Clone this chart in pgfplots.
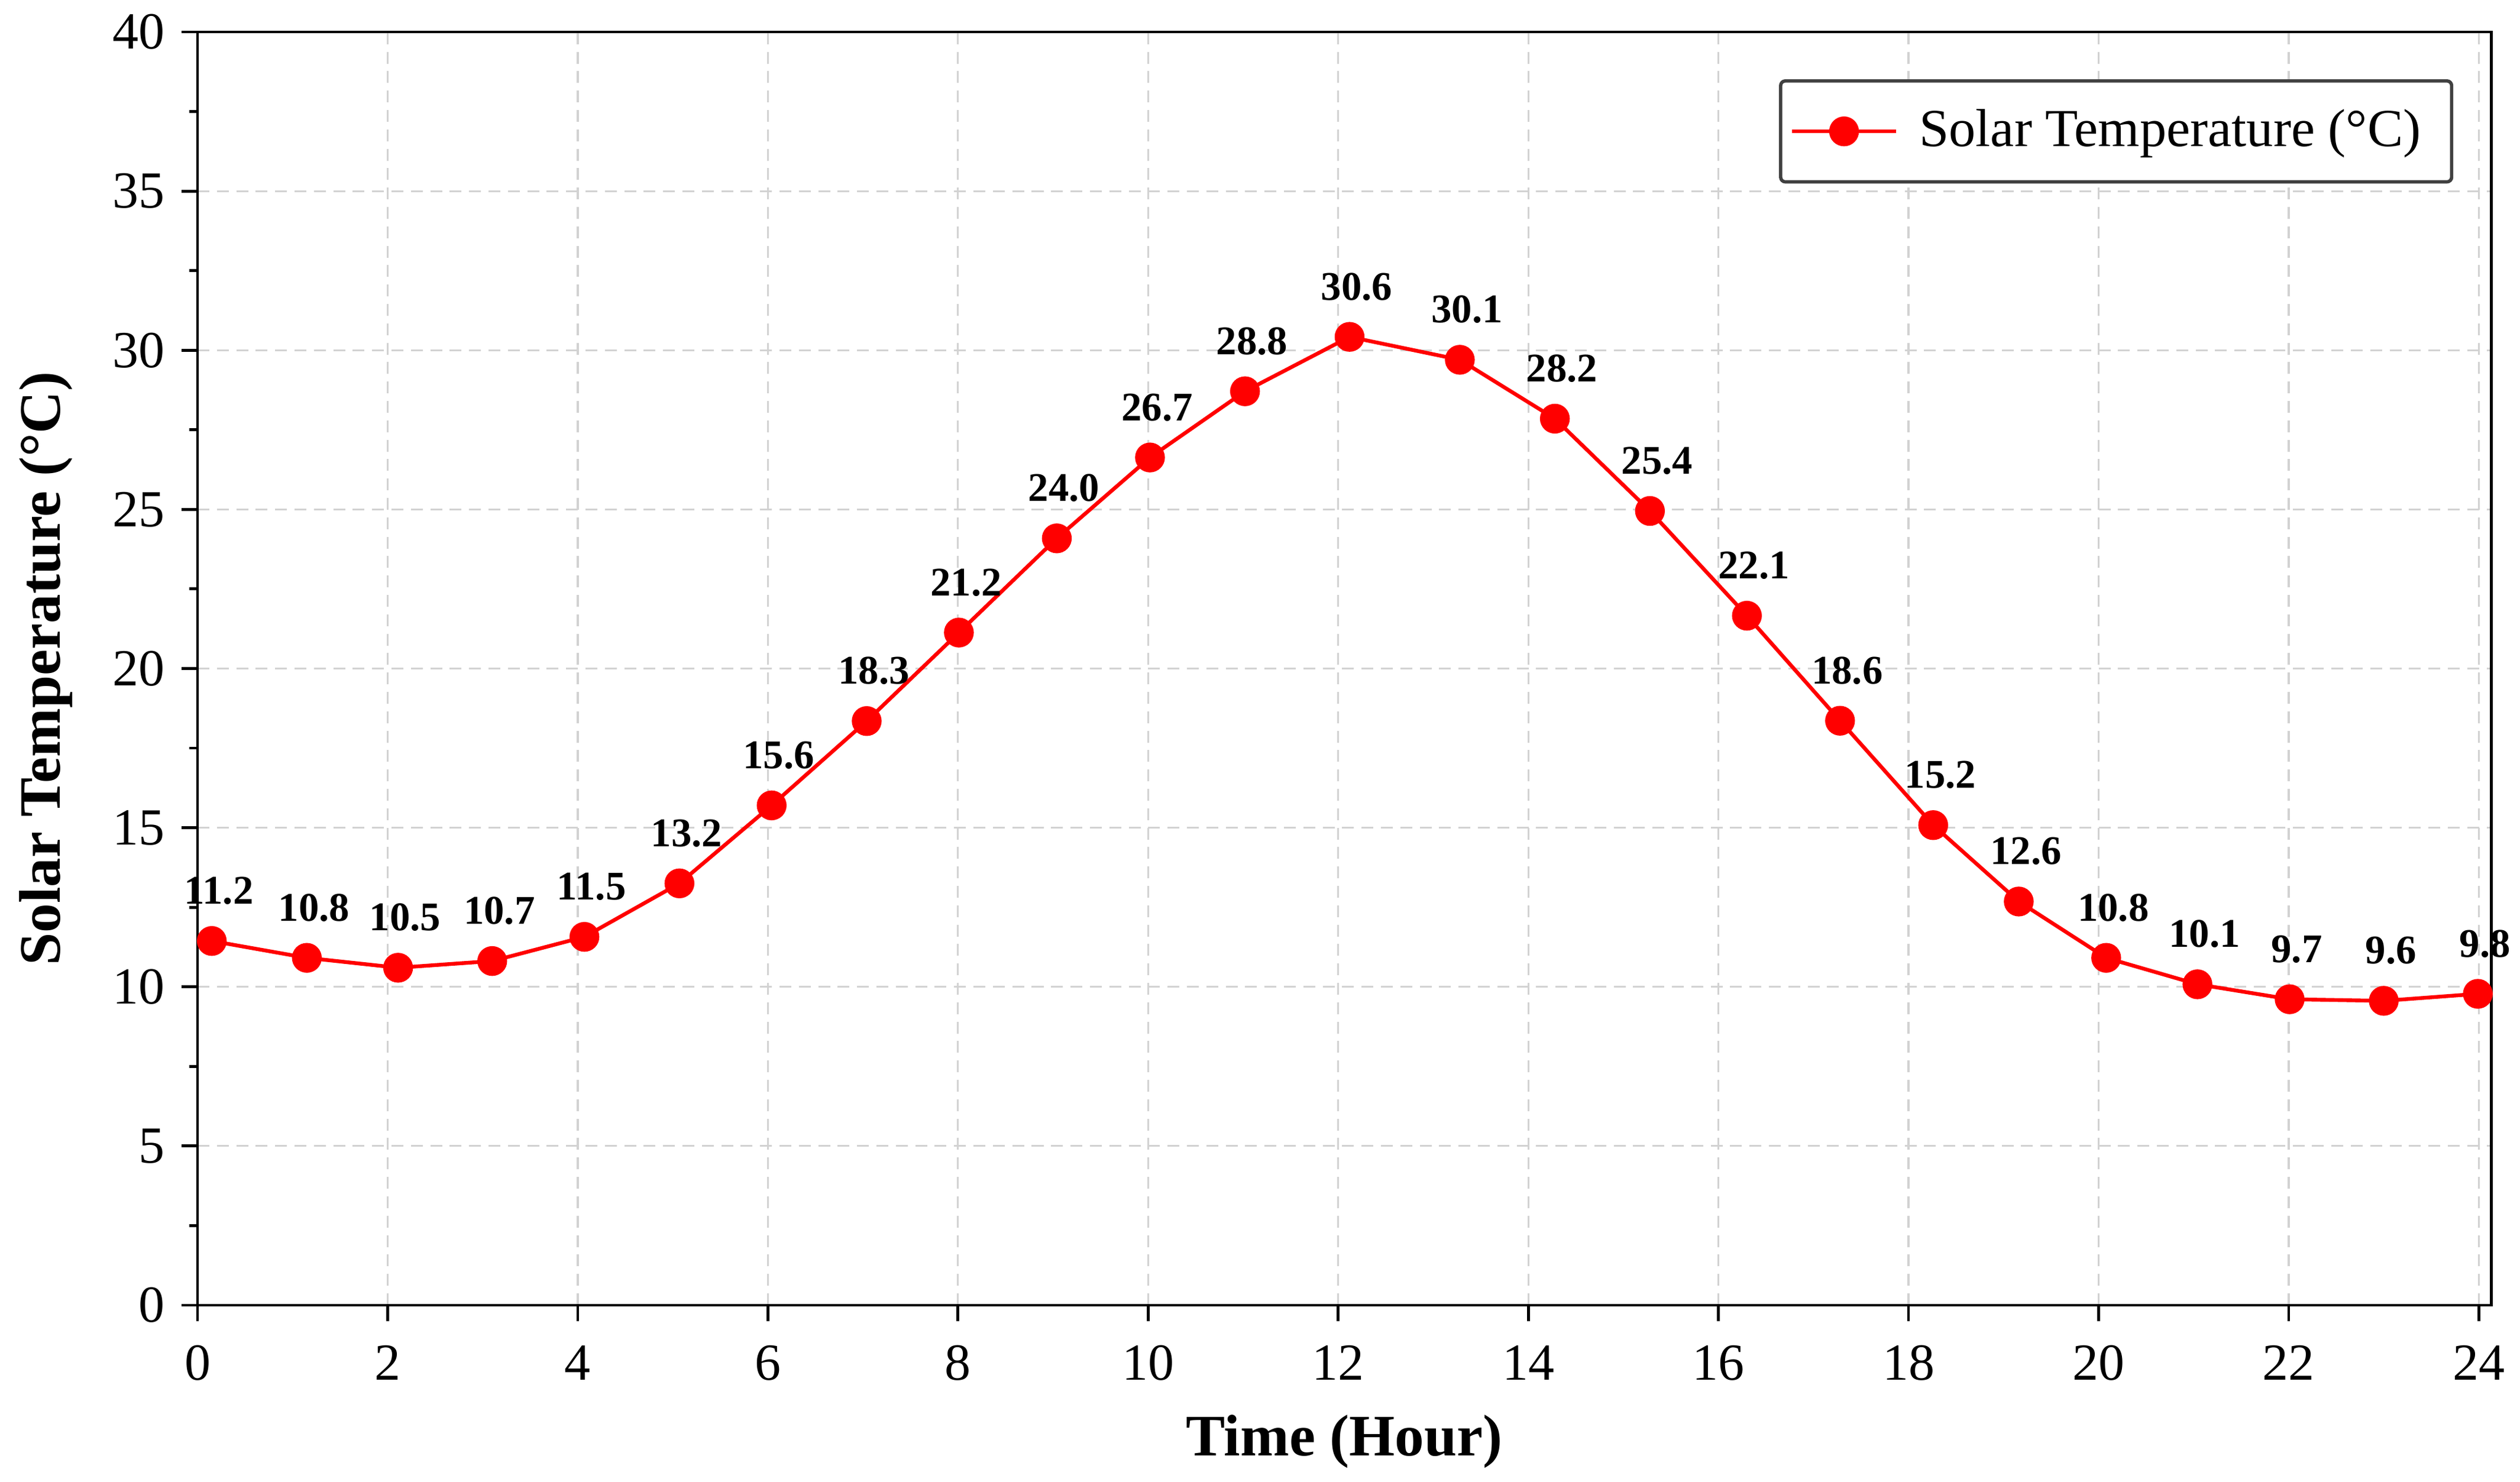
\documentclass[border=0pt]{standalone}
\usepackage{fontspec}
\setmainfont{Liberation Serif}
\usepackage{pgfplots}
\usepackage{pgfplotstable}
\pgfplotsset{compat=1.18}

\pgfplotstableread{
x y lab
0.15 11.44 11.2
1.15 10.91 10.8
2.11 10.60 10.5
3.10 10.81 10.7
4.07 11.57 11.5
5.07 13.25 13.2
6.04 15.70 15.6
7.04 18.35 18.3
8.01 21.13 21.2
9.04 24.09 24.0
10.02 26.63 26.7
11.02 28.71 28.8
12.12 30.42 30.6
13.28 29.70 30.1
14.28 27.85 28.2
15.28 24.95 25.4
16.30 21.66 22.1
17.28 18.36 18.6
18.26 15.08 15.2
19.16 12.68 12.6
20.08 10.91 10.8
21.04 10.08 10.1
22.01 9.61 9.7
23.00 9.56 9.6
23.99 9.78 9.8
}\soltemp

\begin{document}
\begin{tikzpicture}
\path[use as bounding box] (-41.75pt,-37.35pt) rectangle (490.85pt,275.85pt);
\begin{axis}[
  scale only axis,
  width=484.75pt, height=269.1pt,
  xmin=0, xmax=24.13,
  ymin=0, ymax=40,
  xtick={0,2,...,24},
  ytick={0,5,...,40},
  minor y tick num=1,
  tick align=outside,
  xtick pos=bottom, ytick pos=left,
  major tick length=3.4pt,
  minor tick length=1.7pt,
  axis line style={line width=0.6pt, black},
  every tick/.style={black, line width=0.6pt},
  grid=major,
  major grid style={line width=0.4pt, gray!35, dash pattern=on 2.5pt off 1.6pt},
  /pgf/number format/assume math mode=true,
  tick label style={font=\fontsize{11}{13}\selectfont},
  xticklabel style={yshift=-1.6pt},
  xlabel={\textbf{Time (Hour)}},
  ylabel={\textbf{Solar Temperature (°C)}},
  label style={font=\fontsize{12.4}{15}\selectfont},
  xlabel style={at={(axis description cs:0.5,-0.107)}, anchor=center},
  ylabel style={at={(axis description cs:-0.066,0.5)}, anchor=center},
  clip=false,
  legend style={at={(axis description cs:1,1)}, anchor=north east,
    xshift=-8pt, yshift=-10pt, draw=black!75, line width=0.7pt,
    rounded corners=1pt, font=\fontsize{11.3}{13.5}\selectfont,
    inner xsep=2pt, inner ysep=4pt,
    nodes={inner xsep=4.5pt}},
  legend image code/.code={%
    \draw[mark repeat=2,mark phase=2,#1] plot coordinates {(0pt,0pt) (11pt,0pt) (22pt,0pt)};},
]
\addplot[red, line width=0.8pt, mark=*, mark size=2.75pt,
  mark options={fill=red, draw=red},
  nodes near coords, point meta=explicit symbolic,
  nodes near coords style={font=\bfseries\fontsize{8.6}{10}\selectfont, black, anchor=center, yshift=10.6pt, xshift=1.5pt}]
  table[x=x, y=y, meta=lab] {\soltemp};
\addlegendentry{Solar Temperature (°C)}
\end{axis}
\end{tikzpicture}
\end{document}
